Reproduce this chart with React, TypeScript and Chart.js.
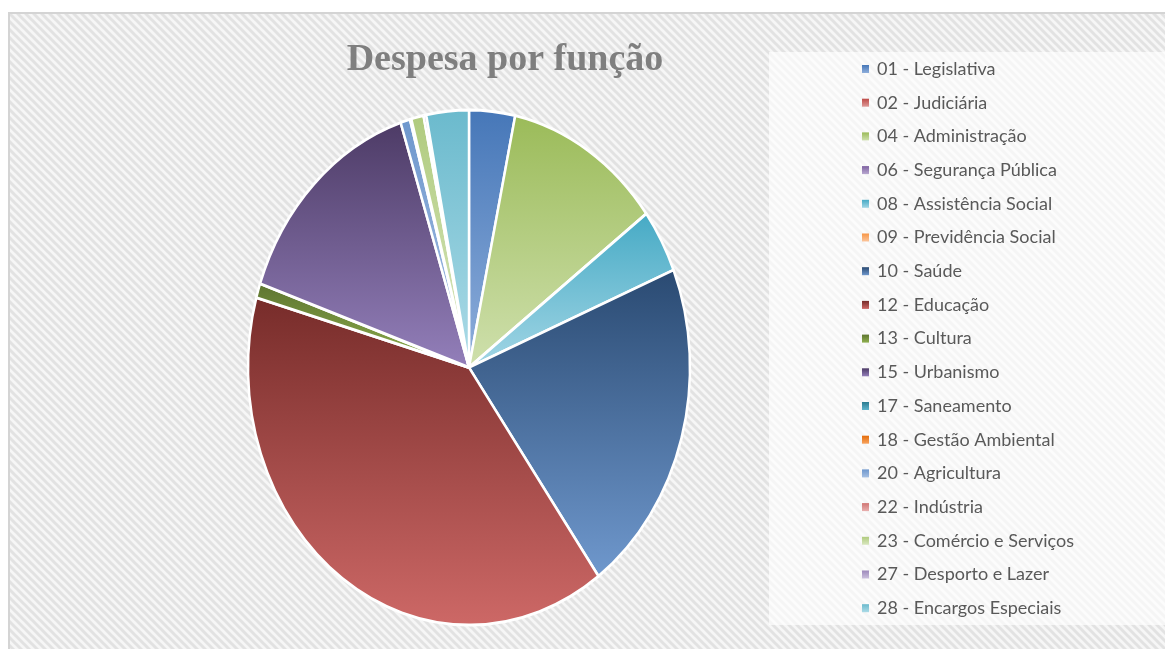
import React, { useEffect, useRef } from "react";
import { Chart, registerables } from "chart.js";

Chart.register(...registerables);

const chartTitle = "Despesa por função";

const labels = [
  "01 - Legislativa",
  "02 - Judiciária",
  "04 - Administração",
  "06 - Segurança Pública",
  "08 - Assistência Social",
  "09 - Previdência Social",
  "10 - Saúde",
  "12 - Educação",
  "13 - Cultura",
  "15 - Urbanismo",
  "17 - Saneamento",
  "18 - Gestão Ambiental",
  "20 - Agricultura",
  "22 - Indústria",
  "23 - Comércio e Serviços",
  "27 - Desporto e Lazer",
  "28 - Encargos Especiais",
];

const values = [3.35, 0, 11.45, 0, 4.0, 0, 21.2, 39.3, 0.9, 14.7, 0, 0, 0.7, 0.1, 0.9, 0.2, 3.1];

const darkColors = [
  "#4677b8", "#be4b48", "#9bbb59", "#7d60a0", "#46aac5", "#f79646",
  "#2a4a72", "#772c2a", "#5e7530", "#4d3b66", "#2b7b90", "#e46c0a",
  "#6e97cd", "#d07573", "#b0cb7e", "#9d89bb", "#6bbacd",
];

const lightColors = [
  "#8eaedb", "#dd9a98", "#cfe0ad", "#b8a8d0", "#a2d6e5", "#fbc59c",
  "#6f98cd", "#cd6866", "#8fb04f", "#937fba", "#5fb4cc", "#f7a35f",
  "#a6c0e3", "#e8b0af", "#d9e7c0", "#cbc0dd", "#acdbe7",
];

const CANVAS_W = 1157;
const CANVAS_H = 637;
const RADIUS = 221;
const SCALE_Y = 257.5 / 221;

function sliceGradient(c: any) {
  const chart = c.chart;
  const area = chart.chartArea;
  const i = c.dataIndex;
  if (!area || i === undefined) return darkColors[i ?? 0];
  const total = values.reduce((a, b) => a + b, 0);
  let cum = 0;
  for (let k = 0; k < i; k++) cum += values[k];
  const a0 = -Math.PI / 2 + (2 * Math.PI * cum) / total;
  const a1 = a0 + (2 * Math.PI * values[i]) / total;
  const cy = (area.top + area.bottom) / 2;
  const ys = [cy, cy + RADIUS * Math.sin(a0), cy + RADIUS * Math.sin(a1)];
  for (const t of [-Math.PI / 2, Math.PI / 2, (3 * Math.PI) / 2]) {
    if (t > a0 && t < a1) ys.push(cy + RADIUS * Math.sin(t));
  }
  const y0 = Math.min(...ys);
  let y1 = Math.max(...ys);
  if (y1 - y0 < 1) y1 = y0 + 1;
  const g = chart.ctx.createLinearGradient(0, y0, 0, y1);
  g.addColorStop(0, darkColors[i]);
  g.addColorStop(1, lightColors[i]);
  return g;
}

function makePattern(ctx: CanvasRenderingContext2D) {
  const tile = document.createElement("canvas");
  tile.width = 8;
  tile.height = 8;
  const t = tile.getContext("2d")!;
  t.fillStyle = "#f6f6f6";
  t.fillRect(0, 0, 8, 8);
  t.strokeStyle = "#e2e2e2";
  t.lineWidth = 3;
  for (let k = -1; k <= 1; k++) {
    t.beginPath();
    t.moveTo(k * 8 - 2, -2);
    t.lineTo(k * 8 + 10, 10);
    t.stroke();
  }
  return ctx.createPattern(tile, "repeat");
}

const backgroundPlugin = {
  id: "bgHatch",
  beforeDraw(chart: any) {
    const ctx = chart.ctx as CanvasRenderingContext2D;
    ctx.save();
    const p = makePattern(ctx);
    if (p) ctx.fillStyle = p;
    ctx.fillRect(0, 0, CANVAS_W, CANVAS_H);
    ctx.strokeStyle = "#d4d4d4";
    ctx.lineWidth = 2;
    ctx.strokeRect(1, 1, CANVAS_W + 4, CANVAS_H + 4);
    // legend box
    ctx.fillStyle = "rgba(255,255,255,0.65)";
    ctx.fillRect(761, 40, CANVAS_W - 761, 573);
    ctx.restore();
  },
};

const ellipsePlugin = {
  id: "ellipse",
  beforeDatasetsDraw(chart: any) {
    const a = chart.chartArea;
    const cx = (a.left + a.right) / 2;
    const cy = (a.top + a.bottom) / 2;
    const ctx = chart.ctx;
    ctx.save();
    ctx.translate(cx, cy);
    ctx.scale(1, SCALE_Y);
    ctx.translate(-cx, -cy);
  },
  afterDatasetsDraw(chart: any) {
    chart.ctx.restore();
  },
};

const textPlugin = {
  id: "titleLegend",
  afterDraw(chart: any) {
    const ctx = chart.ctx as CanvasRenderingContext2D;
    ctx.save();
    // title
    ctx.fillStyle = "#7f7f7f";
    ctx.font = "bold 38px 'Liberation Serif'";
    ctx.textAlign = "center";
    ctx.textBaseline = "alphabetic";
    ctx.fillText(chartTitle, 497, 58);
    // legend
    const lbls: string[] = chart.data.labels;
    ctx.font = "18px Lato";
    ctx.textAlign = "left";
    ctx.textBaseline = "middle";
    lbls.forEach((lab, i) => {
      const y = 57 + i * 33.7;
      const g = ctx.createLinearGradient(0, y - 4, 0, y + 4);
      g.addColorStop(0, darkColors[i]);
      g.addColorStop(1, lightColors[i]);
      ctx.fillStyle = g;
      ctx.fillRect(854, y - 4, 7, 8);
      ctx.fillStyle = "#595959";
      ctx.fillText(lab, 869, y);
    });
    ctx.restore();
  },
};

export default function App() {
  const ref = useRef<HTMLCanvasElement>(null);
  useEffect(() => {
    document.body.style.overflow = "hidden";
    const canvas = ref.current!;
    const chart = new Chart(canvas, {
      type: "pie",
      data: {
        labels,
        datasets: [
          {
            data: values,
            backgroundColor: sliceGradient as any,
            borderColor: "#ffffff",
            borderWidth: 2.5,
            radius: RADIUS,
            clip: false as any,
          } as any,
        ],
      },
      options: {
        animation: false,
        responsive: false,
        devicePixelRatio: 1,
        events: [],
        layout: { padding: { left: 200, right: 435, top: 100, bottom: 26 } },
        plugins: {
          legend: { display: false },
          title: { display: false },
          tooltip: { enabled: false },
        },
      },
      plugins: [backgroundPlugin, ellipsePlugin, textPlugin],
    });
    return () => chart.destroy();
  }, []);
  return (
    <canvas
      ref={ref}
      width={CANVAS_W}
      height={CANVAS_H}
      style={{ position: "absolute", left: 8, top: 12, width: CANVAS_W, height: CANVAS_H }}
    />
  );
}
